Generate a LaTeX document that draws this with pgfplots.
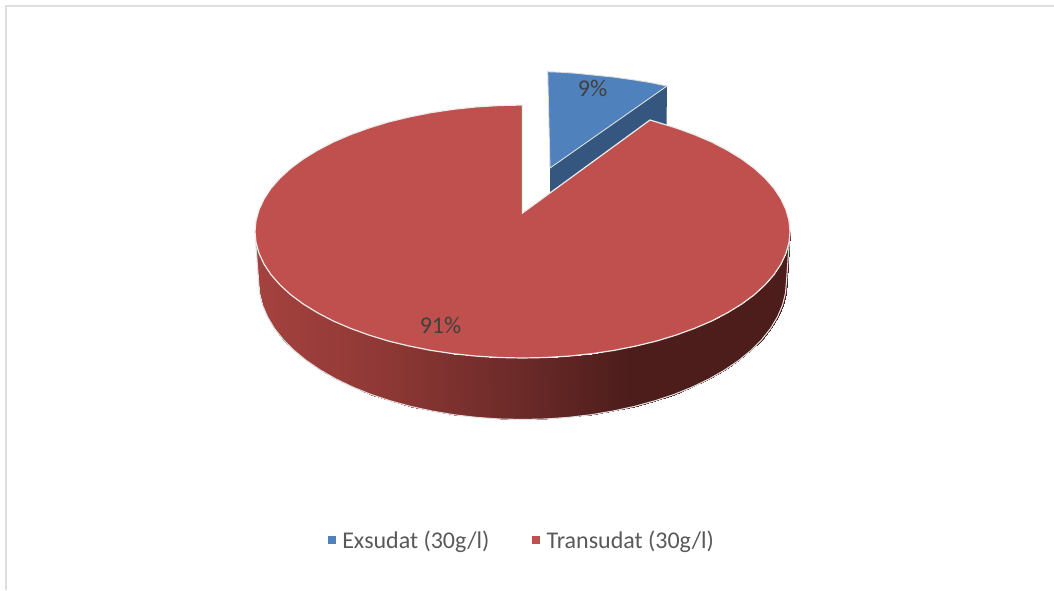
\documentclass[border=0pt]{standalone}
\usepackage{pgfplots}
\pgfplotsset{compat=1.18}
\usepackage{fontspec}
\setmainfont{Carlito}
\definecolor{redtop}{RGB}{192,80,77}
\definecolor{bluetop}{RGB}{79,129,189}
\definecolor{blueside}{RGB}{52,86,127}
\definecolor{edgeg}{RGB}{222,222,222}
\definecolor{edgew}{RGB}{236,236,236}
\definecolor{labelg}{RGB}{64,64,64}
\definecolor{legendg}{RGB}{89,89,89}
\pgfplotsset{base/.style={
  at={(0,0)},anchor=south west,
  width=1054pt,height=590pt,scale only axis,
  xmin=0,xmax=1054,ymin=0,ymax=590,y dir=reverse,hide axis}}
\begin{document}
\begin{tikzpicture}
\useasboundingbox (0,0) rectangle (1054pt,590pt);
% rim of the red slice, shaded along x
\begin{axis}[base,view={0}{90},zmin=-1,zmax=1,
  colormap={rim}{rgb255(0)=(165,66,63) rgb255(130)=(142,56,53) rgb255(265)=(107,42,40) rgb255(375)=(76,29,27) rgb255(535)=(76,29,27)},
  point meta min=255,point meta max=790]
\addplot3[surf,shader=interp,mesh/rows=2,mesh/cols=37,point meta=x] table {
x y z
790.0 231.5 0
789.0 242.5 0
785.9 253.5 0
780.9 264.2 0
773.9 274.8 0
764.9 285.0 0
754.2 294.8 0
741.6 304.1 0
727.4 312.8 0
711.7 321.0 0
694.4 328.4 0
675.9 335.1 0
656.3 341.1 0
635.5 346.1 0
614.0 350.4 0
591.7 353.7 0
568.9 356.1 0
545.8 357.5 0
522.5 358.0 0
499.2 357.5 0
476.1 356.1 0
453.3 353.7 0
431.0 350.4 0
409.5 346.1 0
388.7 341.1 0
369.1 335.1 0
350.6 328.4 0
333.3 321.0 0
317.6 312.8 0
303.4 304.1 0
290.8 294.8 0
280.1 285.0 0
271.1 274.8 0
264.1 264.2 0
259.1 253.5 0
256.0 242.5 0
255.0 231.5 0
786.5 281.0 0
785.5 293.1 0
782.5 305.1 0
777.5 316.8 0
770.6 328.4 0
761.8 339.5 0
751.1 350.3 0
738.8 360.4 0
724.7 370.0 0
709.2 378.9 0
692.2 387.1 0
673.9 394.5 0
654.5 400.9 0
634.1 406.5 0
612.8 411.1 0
590.8 414.8 0
568.3 417.4 0
545.5 419.0 0
522.5 419.5 0
499.5 419.0 0
476.7 417.4 0
454.2 414.8 0
432.2 411.1 0
410.9 406.5 0
390.5 400.9 0
371.1 394.5 0
352.8 387.1 0
335.8 378.9 0
320.3 370.0 0
306.2 360.4 0
293.9 350.3 0
283.2 339.5 0
274.4 328.4 0
267.5 316.8 0
262.5 305.1 0
259.5 293.1 0
258.5 281.0 0
};
\end{axis}
\begin{axis}[base,
  legend style={at={(522/1054,1-540/590)},anchor=center,draw=none,fill=none,
    legend columns=2,font=\fontsize{24}{28}\selectfont,text=legendg,
    /tikz/every odd column/.append style={column sep=5pt},
    /tikz/every even column/.append style={column sep=41pt},
    legend cell align=left}]
% chart area border
\addplot[forget plot,draw=edgeg,line width=1.6pt] coordinates {(6,590)(6,6)(1054,6)};
% blue slice: cut face and top
\addplot[forget plot,fill=blueside,draw=none] coordinates {(550,168)(667,86)(666.5,126)(550,195)} -- cycle;
\addplot[forget plot,fill=bluetop,draw=edgeg,line width=0.9pt] coordinates {
(550,168)(547.7,71.7)(560,72.2)(575,73.2)(593,75)(613,77)(633,79.8)(650,82.5)(667,86)} -- cycle;
% outline of the rim
\addplot[forget plot,draw=edgeg,line width=1.1pt] coordinates {
(790.0,231.5)(786.5,281.0)(785.5,293.1)(782.5,305.1)(777.5,316.8)(770.6,328.4)(761.8,339.5)(751.1,350.3)(738.8,360.4)(724.7,370.0)(709.2,378.9)(692.2,387.1)(673.9,394.5)(654.5,400.9)(634.1,406.5)(612.8,411.1)(590.8,414.8)(568.3,417.4)(545.5,419.0)(522.5,419.5)(499.5,419.0)(476.7,417.4)(454.2,414.8)(432.2,411.1)(410.9,406.5)(390.5,400.9)(371.1,394.5)(352.8,387.1)(335.8,378.9)(320.3,370.0)(306.2,360.4)(293.9,350.3)(283.2,339.5)(274.4,328.4)(267.5,316.8)(262.5,305.1)(259.5,293.1)(258.5,281.0)(255.0,231.5)};
% red slice top
\addplot[forget plot,fill=redtop,draw=edgew,line width=1.2pt] coordinates {
(522.5,213)(650,120)(656.3,121.9)(675.9,127.9)(694.4,134.6)(711.7,142.0)(727.4,150.2)(741.6,158.9)(754.2,168.2)(764.9,178.0)(773.9,188.2)(780.9,198.8)(785.9,209.5)(789.0,220.5)(790.0,231.5)
(789.0,242.5)(785.9,253.5)(780.9,264.2)(773.9,274.8)(764.9,285.0)(754.2,294.8)(741.6,304.1)(727.4,312.8)(711.7,321.0)(694.4,328.4)(675.9,335.1)(656.3,341.1)(635.5,346.1)(614.0,350.4)(591.7,353.7)(568.9,356.1)(545.8,357.5)(522.5,358.0)
(499.2,357.5)(476.1,356.1)(453.3,353.7)(431.0,350.4)(409.5,346.1)(388.7,341.1)(369.1,335.1)(350.6,328.4)(333.3,321.0)(317.6,312.8)(303.4,304.1)(290.8,294.8)(280.1,285.0)(271.1,274.8)(264.1,264.2)(259.1,253.5)(256.0,242.5)(255.0,231.5)
(256.0,220.5)(259.1,209.5)(264.1,198.8)(271.1,188.2)(280.1,178.0)(290.8,168.2)(303.4,158.9)(317.6,150.2)(333.3,142.0)(350.6,134.6)(369.1,127.9)(388.7,121.9)(409.5,116.9)(431.0,112.6)(453.3,109.3)(476.1,106.9)(499.2,105.5)(522.5,105.0)} -- cycle;
\node[text=labelg,font=\fontsize{24}{28}\selectfont] at (axis cs:592.5,88) {9\%};
\node[text=labelg,font=\fontsize{24}{28}\selectfont] at (axis cs:440.5,325) {91\%};
\addlegendimage{only marks,mark=square*,mark size=3.6pt,draw=bluetop,fill=bluetop,mark options={draw=bluetop,fill=bluetop}}
\addlegendentry{Exsudat (30g/l)}
\addlegendimage{only marks,mark=square*,mark size=3.6pt,draw=redtop,fill=redtop,mark options={draw=redtop,fill=redtop}}
\addlegendentry{Transudat (30g/l)}
\end{axis}
\end{tikzpicture}
\end{document}
